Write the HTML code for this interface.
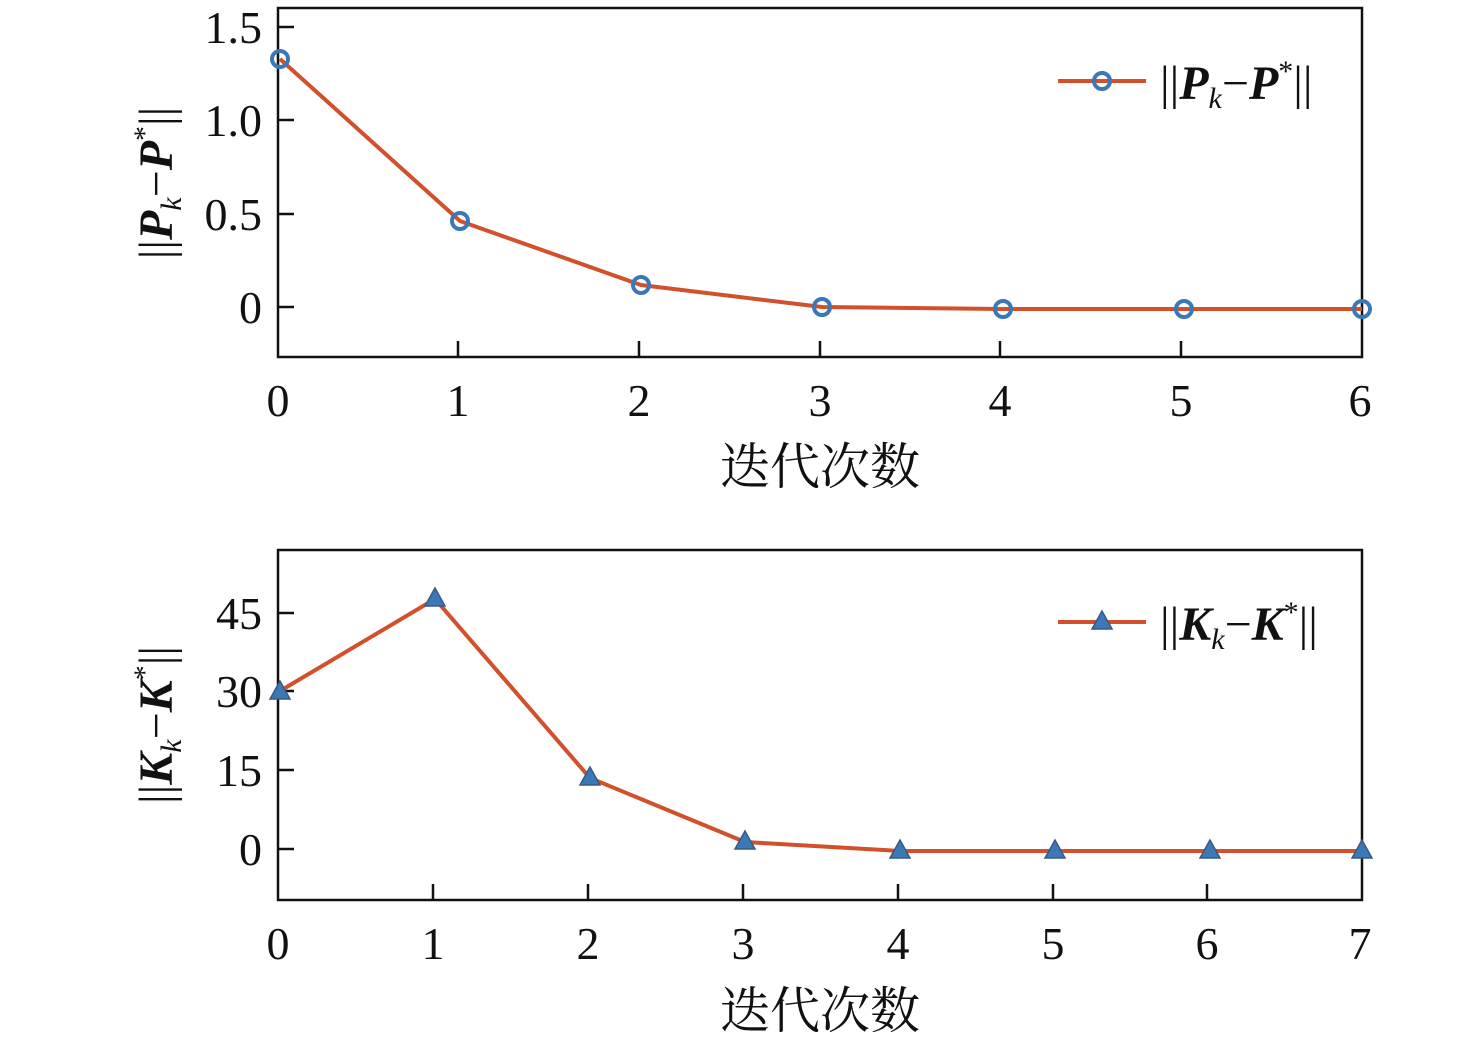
<!DOCTYPE html>
<html><head><meta charset="utf-8"><style>
body{margin:0;background:#fff;}
svg text{font-family:"Liberation Serif","Times New Roman",serif;fill:#111;}
svg text.cjk{font-family:"Noto Serif CJK SC","Noto Sans CJK SC",serif;}
</style></head><body>
<svg width="1476" height="1043" viewBox="0 0 1476 1043" xmlns="http://www.w3.org/2000/svg">
<!-- TOP -->
<rect x="278" y="8" width="1084" height="349" fill="none" stroke="#111" stroke-width="2.5"/>
<g stroke="#111" stroke-width="2.5">
<line x1="278" y1="27" x2="294" y2="27"/><line x1="278" y1="120" x2="294" y2="120"/><line x1="278" y1="214" x2="294" y2="214"/><line x1="278" y1="307" x2="294" y2="307"/>
<line x1="458" y1="357" x2="458" y2="341"/><line x1="639" y1="357" x2="639" y2="341"/><line x1="820" y1="357" x2="820" y2="341"/><line x1="1000" y1="357" x2="1000" y2="341"/><line x1="1181" y1="357" x2="1181" y2="341"/>
</g>
<g font-size="46" text-anchor="end">
<text x="262" y="43">1.5</text><text x="262" y="136">1.0</text><text x="262" y="230">0.5</text><text x="262" y="323">0</text>
</g>
<g font-size="46" text-anchor="middle">
<text x="278" y="416">0</text><text x="458" y="416">1</text><text x="639" y="416">2</text><text x="820" y="416">3</text><text x="1000" y="416">4</text><text x="1181" y="416">5</text><text x="1360" y="416">6</text>
</g>
<text class="cjk" x="820" y="484" font-size="50" text-anchor="middle">迭代次数</text>
<text transform="translate(172,183) rotate(-90)" font-size="48" text-anchor="middle">||<tspan font-weight="bold" font-style="italic">P</tspan><tspan font-style="italic" font-size="30" dy="9">k</tspan><tspan dy="-9">−</tspan><tspan font-weight="bold" font-style="italic">P</tspan><tspan font-size="30" dy="-18">*</tspan><tspan dy="18">||</tspan></text>
<polyline points="280,59 460,221 641,285 822,307 1003,309 1184,309 1362,309" fill="none" stroke="#d2502a" stroke-width="4"/>
<g fill="none" stroke="#3a78b8" stroke-width="4">
<circle cx="280" cy="59" r="8"/><circle cx="460" cy="221" r="8"/><circle cx="641" cy="285" r="8"/><circle cx="822" cy="307" r="8"/><circle cx="1003" cy="309" r="8"/><circle cx="1184" cy="309" r="8"/><circle cx="1362" cy="309" r="8"/>
</g>
<line x1="1058" y1="81" x2="1146" y2="81" stroke="#d2502a" stroke-width="4"/>
<circle cx="1102" cy="81" r="8" fill="none" stroke="#3a78b8" stroke-width="4"/>
<text x="1160" y="99" font-size="48">||<tspan font-weight="bold" font-style="italic">P</tspan><tspan font-style="italic" font-size="30" dy="9">k</tspan><tspan dy="-9">−</tspan><tspan font-weight="bold" font-style="italic">P</tspan><tspan font-size="30" dy="-18">*</tspan><tspan dy="18">||</tspan></text>
<!-- BOTTOM -->
<rect x="278" y="550" width="1084" height="350" fill="none" stroke="#111" stroke-width="2.5"/>
<g stroke="#111" stroke-width="2.5">
<line x1="278" y1="613" x2="294" y2="613"/><line x1="278" y1="691" x2="294" y2="691"/><line x1="278" y1="770" x2="294" y2="770"/><line x1="278" y1="849" x2="294" y2="849"/>
<line x1="433" y1="900" x2="433" y2="884"/><line x1="588" y1="900" x2="588" y2="884"/><line x1="743" y1="900" x2="743" y2="884"/><line x1="898" y1="900" x2="898" y2="884"/><line x1="1053" y1="900" x2="1053" y2="884"/><line x1="1207" y1="900" x2="1207" y2="884"/>
</g>
<g font-size="46" text-anchor="end">
<text x="262" y="629">45</text><text x="262" y="707">30</text><text x="262" y="786">15</text><text x="262" y="865">0</text>
</g>
<g font-size="46" text-anchor="middle">
<text x="278" y="959">0</text><text x="433" y="959">1</text><text x="588" y="959">2</text><text x="743" y="959">3</text><text x="898" y="959">4</text><text x="1053" y="959">5</text><text x="1207" y="959">6</text><text x="1360" y="959">7</text>
</g>
<text class="cjk" x="820" y="1028" font-size="50" text-anchor="middle">迭代次数</text>
<text transform="translate(172,725) rotate(-90)" font-size="48" text-anchor="middle">||<tspan font-weight="bold" font-style="italic">K</tspan><tspan font-style="italic" font-size="30" dy="9">k</tspan><tspan dy="-9">−</tspan><tspan font-weight="bold" font-style="italic">K</tspan><tspan font-size="30" dy="-18">*</tspan><tspan dy="18">||</tspan></text>
<polyline points="280,691 435,599 590,778 745,842 900,851 1055,851 1210,851 1362,851" fill="none" stroke="#d2502a" stroke-width="4"/>
<g fill="#3a78b8" stroke="#3a5a80" stroke-width="1.5">
<polygon points="280,681 270,699 290,699"/><polygon points="435,588 425,606 445,606"/><polygon points="590,767 580,785 600,785"/><polygon points="745,831 735,849 755,849"/><polygon points="900,840 890,858 910,858"/><polygon points="1055,840 1045,858 1065,858"/><polygon points="1210,840 1200,858 1220,858"/><polygon points="1362,840 1352,858 1372,858"/>
</g>
<line x1="1058" y1="622" x2="1146" y2="622" stroke="#d2502a" stroke-width="4"/>
<polygon points="1102,611 1092,629 1112,629" fill="#3a78b8" stroke="#3a5a80" stroke-width="1.5"/>
<text x="1160" y="640" font-size="48">||<tspan font-weight="bold" font-style="italic">K</tspan><tspan font-style="italic" font-size="30" dy="9">k</tspan><tspan dy="-9">−</tspan><tspan font-weight="bold" font-style="italic">K</tspan><tspan font-size="30" dy="-18">*</tspan><tspan dy="18">||</tspan></text>
</svg>
</body></html>
